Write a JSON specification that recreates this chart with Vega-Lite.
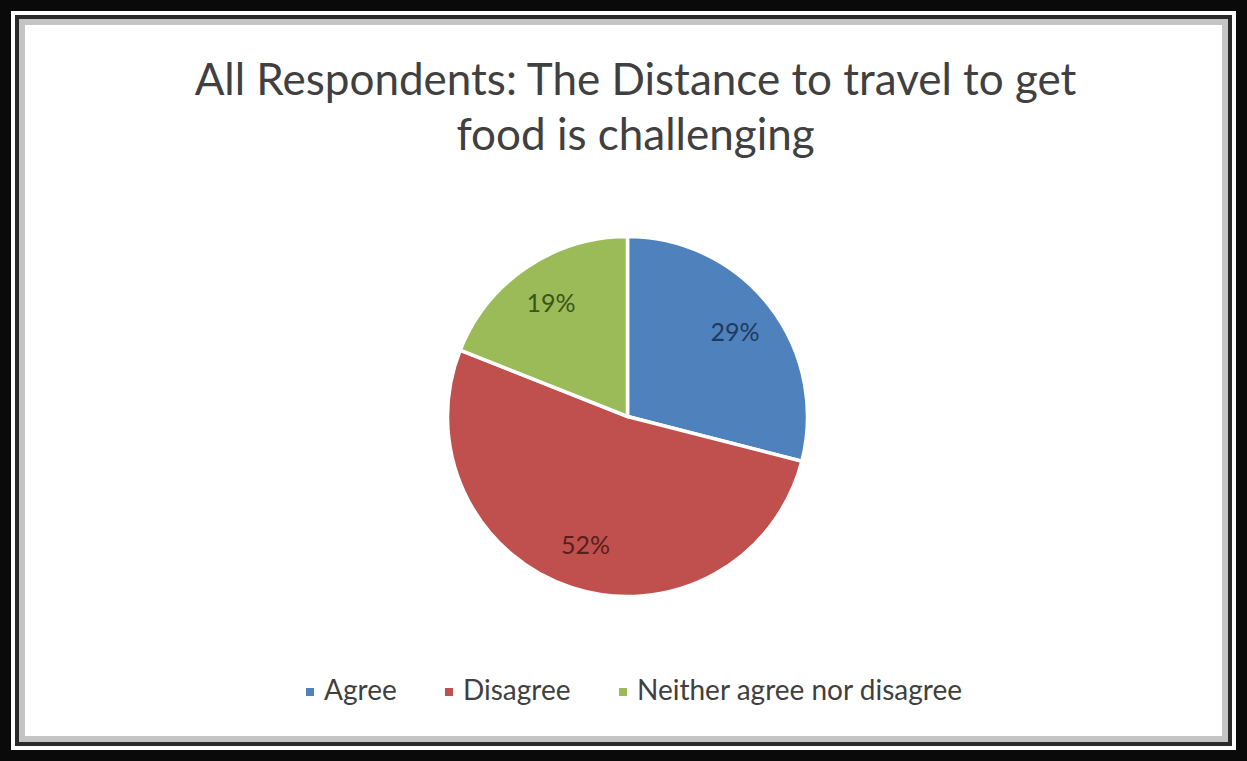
{
  "$schema": "https://vega.github.io/schema/vega-lite/v6.json",
  "width": 1247,
  "height": 761,
  "padding": 0,
  "autosize": "none",
  "background": "white",
  "config": {
    "view": {"stroke": null},
    "font": "Lato"
  },
  "title": {
    "text": ["All Respondents: The Distance to travel to get", "food is challenging"],
    "font": "Lato",
    "fontSize": 44,
    "fontWeight": "normal",
    "color": "#404040",
    "lineHeight": 55,
    "anchor": "middle",
    "offset": -184,
    "dx": 12
  },
  "data": {
    "values": [
      {"category": "Agree", "value": 0.29},
      {"category": "Disagree", "value": 0.52},
      {"category": "Neither agree nor disagree", "value": 0.19}
    ]
  },
  "layer": [
    {
      "mark": {"type": "rect", "fill": "transparent", "stroke": "#c4c4c4", "strokeWidth": 50},
      "encoding": {}
    },
    {
      "mark": {"type": "rect", "fill": "transparent", "stroke": "#2a2a2a", "strokeWidth": 38},
      "encoding": {}
    },
    {
      "mark": {"type": "rect", "fill": "transparent", "stroke": "#ffffff", "strokeWidth": 30},
      "encoding": {}
    },
    {
      "mark": {"type": "rect", "fill": "transparent", "stroke": "#0a0a0a", "strokeWidth": 22},
      "encoding": {}
    },
    {
      "mark": {
        "type": "arc",
        "outerRadius": 180,
        "stroke": "white",
        "strokeWidth": 3.5,
        "x": {"expr": "width/2 + 4"},
        "y": {"expr": "height/2 + 36"}
      },
      "encoding": {
        "theta": {"field": "value", "type": "quantitative", "stack": true},
        "color": {
          "field": "category",
          "type": "nominal",
          "scale": {
            "domain": ["Agree", "Disagree", "Neither agree nor disagree"],
            "range": ["#4F81BD", "#C0504D", "#9BBB59"]
          },
          "legend": {
            "title": null,
            "orient": "none",
            "direction": "horizontal",
            "legendX": 296,
            "legendY": 678,
            "symbolType": "square",
            "symbolSize": 64,
            "symbolStrokeWidth": 0,
            "labelFont": "Lato",
            "labelFontSize": 28,
            "labelColor": "#404040",
            "labelOffset": 0,
            "columnPadding": 38,
            "labelLimit": 450
          }
        }
      }
    },
    {
      "mark": {
        "type": "text",
        "radius": 136,
        "fontSize": 25,
        "font": "Lato",
        "x": {"expr": "width/2 + 4"},
        "y": {"expr": "height/2 + 36"}
      },
      "encoding": {
        "theta": {"field": "value", "type": "quantitative", "stack": true},
        "text": {"field": "value", "type": "quantitative", "format": ".0%"},
        "color": {
          "field": "category",
          "type": "nominal",
          "scale": {
            "domain": ["Agree", "Disagree", "Neither agree nor disagree"],
            "range": ["#1F3A60", "#5A1E1C", "#3B5418"]
          },
          "legend": null
        }
      }
    }
  ],
  "resolve": {"scale": {"color": "independent"}}
}
